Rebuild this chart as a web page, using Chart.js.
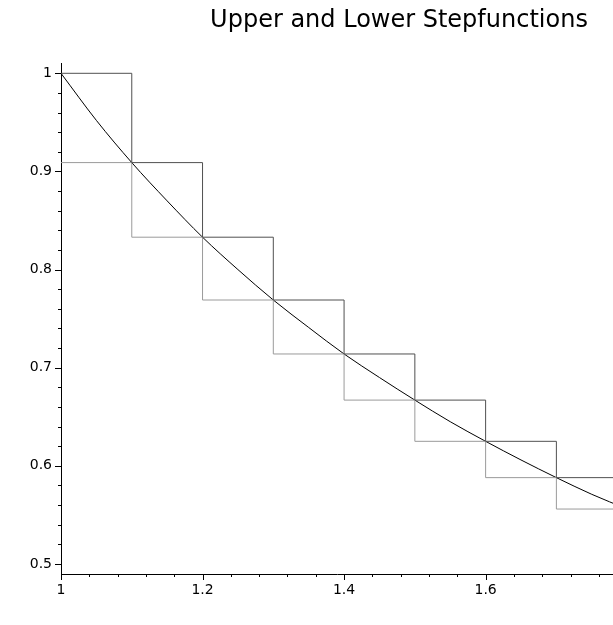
<!DOCTYPE html>
<html>
<head>
<meta charset="utf-8">
<script src="https://cdn.jsdelivr.net/npm/chart.js@4"></script>
<style>
  html, body { margin: 0; padding: 0; background: #fff; }
  #wrap { width: 613px; height: 625px; position: relative; }
</style>
</head>
<body>
<div id="wrap"><canvas id="chart"></canvas></div>
<script>
const TITLE = "Upper and Lower Stepfunctions";

// step edges and step heights
const stepX = [1, 1.1, 1.2, 1.3, 1.4, 1.5, 1.6, 1.7, 1.8];
const upperY = [1, 0.909, 0.833, 0.769, 0.714, 0.667, 0.625, 0.588, 0.588];
const lowerY = [0.909, 0.833, 0.769, 0.714, 0.667, 0.625, 0.588, 0.556, 0.556];

// the curve 1/x
const curveX = [1, 1.05, 1.1, 1.15, 1.2, 1.25, 1.3, 1.35, 1.4, 1.45, 1.5, 1.55, 1.6, 1.65, 1.7, 1.75, 1.8];
const curveY = [1, 0.952, 0.909, 0.870, 0.833, 0.800, 0.769, 0.741, 0.714, 0.690, 0.667, 0.645, 0.625, 0.606, 0.588, 0.571, 0.556];

// ticks
const xMajor = [1, 1.2, 1.4, 1.6];
const xMinor = [1.04, 1.08, 1.12, 1.16, 1.24, 1.28, 1.32, 1.36, 1.44, 1.48, 1.52, 1.56, 1.64, 1.68, 1.72, 1.76];
const yMajor = [0.5, 0.6, 0.7, 0.8, 0.9, 1];
const yMinor = [0.52, 0.54, 0.56, 0.58, 0.62, 0.64, 0.66, 0.68, 0.72, 0.74, 0.76, 0.78,
                0.82, 0.84, 0.86, 0.88, 0.92, 0.94, 0.96, 0.98];

const pts = (xs, ys) => xs.map((x, i) => ({ x, y: ys[i] }));
const isMajor = (list, v) => list.some(m => Math.abs(m - v) < 1e-6);

const tickMarks = {
  id: "tickMarks",
  afterDraw(chart) {
    const { ctx, scales: { x, y }, chartArea } = chart;
    ctx.save();
    ctx.strokeStyle = "#000";
    ctx.lineWidth = 1;
    ctx.beginPath();
    xMajor.concat(xMinor).forEach(v => {
      const px = Math.round(x.getPixelForValue(v)) + 0.5;
      const len = isMajor(xMajor, v) ? 6 : 3;
      ctx.moveTo(px, chartArea.bottom);
      ctx.lineTo(px, chartArea.bottom + len);
    });
    yMajor.concat(yMinor).forEach(v => {
      const py = Math.round(y.getPixelForValue(v)) + 0.5;
      const len = isMajor(yMajor, v) ? 6 : 3;
      ctx.moveTo(chartArea.left, py);
      ctx.lineTo(chartArea.left - len, py);
    });
    ctx.stroke();

    ctx.fillStyle = "#000";
    ctx.font = "24px 'DejaVu Sans'";
    ctx.textAlign = "center";
    ctx.textBaseline = "alphabetic";
    ctx.fillText(TITLE, 399, 27);
    ctx.restore();
  }
};

new Chart(document.getElementById("chart"), {
  type: "line",
  data: {
    datasets: [
      {
        data: pts(stepX, upperY),
        stepped: "before",
        borderColor: "#505050",
        borderWidth: 1,
        pointRadius: 0
      },
      {
        data: pts(stepX, lowerY),
        stepped: "before",
        borderColor: "#9a9a9a",
        borderWidth: 1,
        pointRadius: 0
      },
      {
        data: pts(curveX, curveY),
        cubicInterpolationMode: "monotone",
        borderColor: "#000",
        borderWidth: 1,
        pointRadius: 0
      }
    ]
  },
  options: {
    responsive: true,
    maintainAspectRatio: false,
    animation: false,
    events: [],
    layout: { padding: { top: 63, right: 0, left: 0, bottom: 0 } },
    plugins: {
      legend: { display: false },
      tooltip: { enabled: false },
      title: { display: false }
    },
    scales: {
      x: {
        type: "linear",
        min: 1,
        max: 1.78,
        grid: { display: false, drawTicks: false },
        border: { display: true, color: "#000", width: 1 },
        afterBuildTicks: s => { s.ticks = xMajor.map(v => ({ value: v })); },
        afterFit: s => { s.height = 51; },
        ticks: {
          padding: 8,
          color: "#000",
          font: { family: "'DejaVu Sans'", size: 14 },
          maxRotation: 0,
          callback: v => String(v)
        }
      },
      y: {
        type: "linear",
        min: 0.4898,
        max: 1.0105,
        grid: { display: false, drawTicks: false },
        border: { display: true, color: "#000", width: 1 },
        afterBuildTicks: s => { s.ticks = yMajor.map(v => ({ value: v })); },
        afterFit: s => { s.width = 61; },
        ticks: {
          padding: 9,
          color: "#000",
          font: { family: "'DejaVu Sans'", size: 14 },
          callback: v => String(v)
        }
      }
    }
  },
  plugins: [tickMarks]
});
</script>
</body>
</html>
